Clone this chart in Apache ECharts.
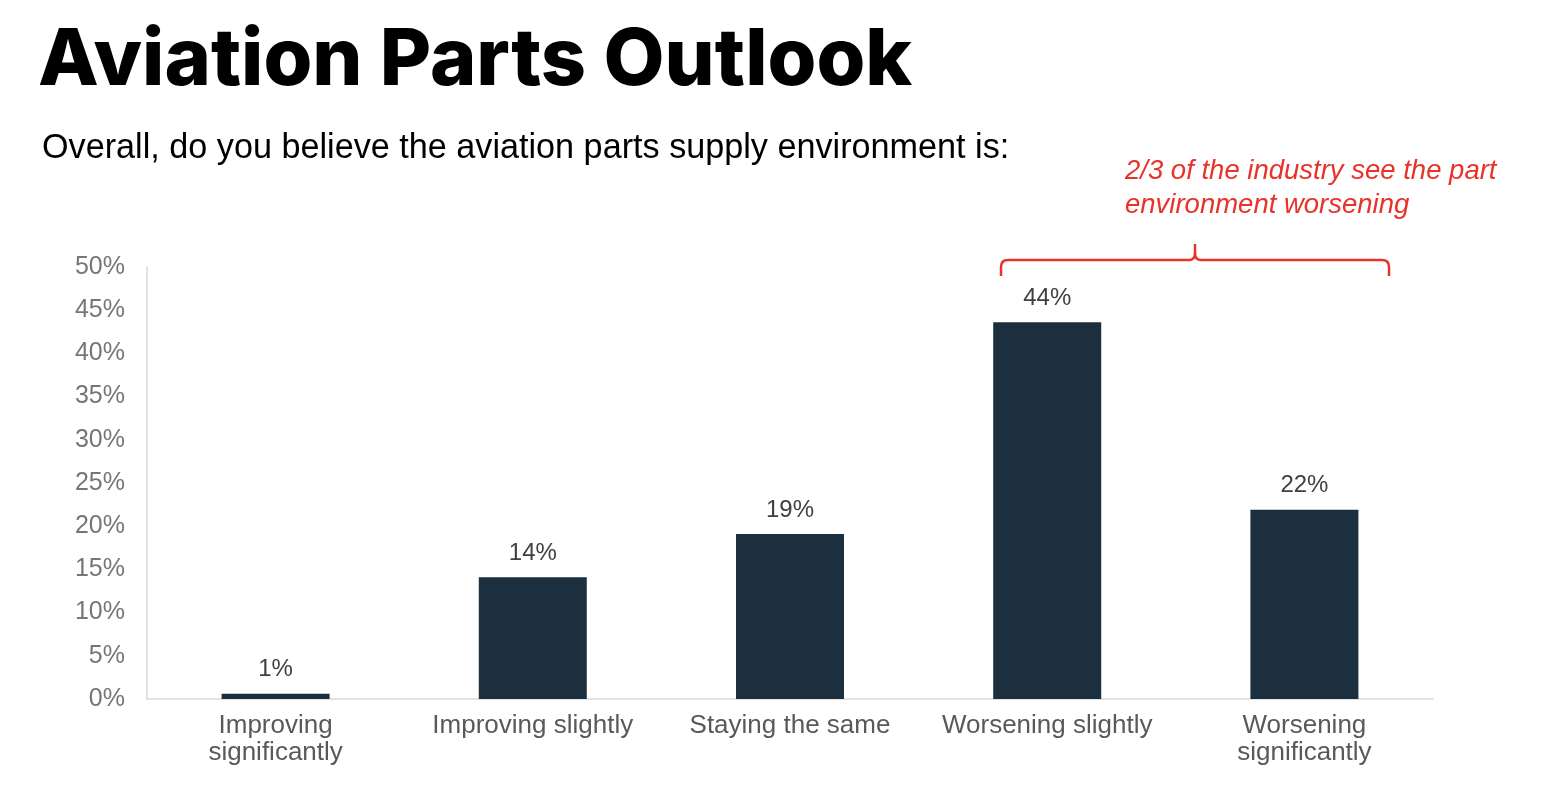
<!DOCTYPE html>
<html>
<head>
<meta charset="utf-8">
<script src="https://cdn.jsdelivr.net/npm/echarts@6/dist/echarts.min.js"></script>
<style>
html,body{margin:0;padding:0;background:#fff;}
#c{width:1554px;height:804px;}
</style>
</head>
<body>
<div id="c"></div>
<script>
const categories = ['Improving\nsignificantly', 'Improving slightly', 'Staying the same', 'Worsening slightly', 'Worsening\nsignificantly'];
const values = [0.6, 14.1, 19.1, 43.6, 21.9];
const labels = ['1%', '14%', '19%', '44%', '22%'];
const yTicks = [0, 5, 10, 15, 20, 25, 30, 35, 40, 45, 50];

const red = '#e8322a';
const bstyle = { stroke: red, lineWidth: 2.5, fill: null };

const chart = echarts.init(document.getElementById('c'));
chart.setOption({
  backgroundColor: '#ffffff',
  animation: false,
  title: [
    {
      text: 'Aviation Parts Outlook',
      left: 33, top: 17,
      textStyle: { fontFamily: 'Inter', fontWeight: 800, fontSize: 79, color: '#000000' }
    },
    {
      text: 'Overall, do you believe the aviation parts supply environment is:',
      left: 37, top: 127,
      textStyle: { fontFamily: 'Liberation Sans', fontWeight: 'normal', fontSize: 34.2, color: '#000000' }
    },
    {
      text: '2/3 of the industry see the part\nenvironment worsening',
      left: 1120, top: 149,
      textStyle: { fontFamily: 'Liberation Sans', fontStyle: 'italic', fontWeight: 'normal', fontSize: 27.5, lineHeight: 34, color: red }
    }
  ],
  graphic: [
    { type: 'line', shape: { x1: 1001, y1: 276, x2: 1001, y2: 267 }, style: bstyle },
    { type: 'bezierCurve', shape: { x1: 1001, y1: 267, cpx1: 1001, cpy1: 260, x2: 1008, y2: 260 }, style: bstyle },
    { type: 'line', shape: { x1: 1008, y1: 260, x2: 1189, y2: 260 }, style: bstyle },
    { type: 'bezierCurve', shape: { x1: 1189, y1: 260, cpx1: 1195, cpy1: 260, x2: 1195, y2: 253 }, style: bstyle },
    { type: 'line', shape: { x1: 1195, y1: 253, x2: 1195, y2: 244 }, style: bstyle },
    { type: 'bezierCurve', shape: { x1: 1195, y1: 253, cpx1: 1195, cpy1: 260, x2: 1201, y2: 260 }, style: bstyle },
    { type: 'line', shape: { x1: 1201, y1: 260, x2: 1382, y2: 260 }, style: bstyle },
    { type: 'bezierCurve', shape: { x1: 1382, y1: 260, cpx1: 1389, cpy1: 260, x2: 1389, y2: 267 }, style: bstyle },
    { type: 'line', shape: { x1: 1389, y1: 267, x2: 1389, y2: 276 }, style: bstyle }
  ],
  grid: { left: 147, right: 121, top: 267, bottom: 105, containLabel: false },
  xAxis: {
    type: 'category',
    data: categories,
    axisLine: { show: true, lineStyle: { color: '#d9d9d9', width: 1.5 } },
    axisTick: { show: false },
    axisLabel: {
      fontFamily: 'Liberation Sans', fontSize: 26, color: '#595959',
      lineHeight: 27, margin: 13, interval: 0
    }
  },
  yAxis: {
    type: 'value',
    min: 0, max: 50, interval: 5,
    axisLine: { show: true, lineStyle: { color: '#d9d9d9', width: 1.5 } },
    axisTick: { show: false },
    splitLine: { show: false },
    axisLabel: {
      fontFamily: 'Liberation Sans', fontSize: 25, color: '#767676', margin: 22,
      formatter: function (v) { return yTicks.indexOf(v) >= 0 ? v + '%' : ''; }
    }
  },
  series: [{
    type: 'bar',
    data: values,
    barWidth: 108,
    itemStyle: { color: '#1b2f3e' },
    label: {
      show: true, position: 'top', distance: 12,
      fontFamily: 'Liberation Sans', fontSize: 24, color: '#404040',
      formatter: function (p) { return labels[p.dataIndex]; }
    }
  }]
});
</script>
</body>
</html>
